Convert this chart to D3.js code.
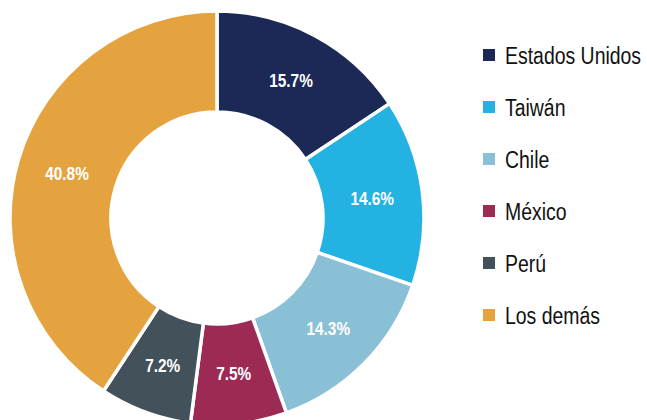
<!DOCTYPE html>
<html>
<head>
<meta charset="utf-8">
<script src="https://cdn.jsdelivr.net/npm/d3@7"></script>
<style>
  body { margin: 0; background: #fff; }
  svg { display: block; }
  text { font-family: "Liberation Sans", Arial, sans-serif; }
</style>
</head>
<body>
<div id="chart"></div>
<script>
// data
let countries = ["Estados Unidos", "Taiwán", "Chile", "México", "Perú", "Los demás"];
let shares = [15.7, 14.6, 14.3, 7.5, 7.2, 40.8];
let colors = ["#1c2957", "#24b2e2", "#8ac0d6", "#9d2a54", "#43515b", "#e5a33f"];

const width = 647
const height = 420
const cx = 217, cy = 218
const outerR = 207, innerR = 106
const narrow = 0.81   // squeeze text horizontally, no condensed font installed

let svg = d3.select("#chart").append("svg")
    .attr("width", width)
    .attr("height", height)

let color = d3.scaleOrdinal().domain(countries).range(colors)

let pie = d3.pie().sort(null).value(d => d.value)
let arcs = pie(countries.map((c, i) => ({ name: c, value: shares[i] })))

let arc = d3.arc().innerRadius(innerR).outerRadius(outerR)

let g = svg.append("g").attr("transform", `translate(${cx},${cy})`)

g.selectAll("path")
    .data(arcs)
    .enter()
    .append("path")
    .attr("d", arc)
    .attr("fill", d => color(d.data.name))
    .attr("stroke", "#fff")
    .attr("stroke-width", 3.5)
    .attr("stroke-linejoin", "miter")

// percent labels
g.selectAll("text.pct")
    .data(arcs)
    .enter()
    .append("text")
    .attr("class", "pct")
    .attr("transform", d => `translate(${arc.centroid(d)}) scale(${narrow},1)`)
    .attr("text-anchor", "middle")
    .attr("dy", "0.36em")
    .attr("fill", "#fff")
    .attr("font-weight", "bold")
    .attr("font-size", 19)
    .text(d => d.data.value.toFixed(1) + "%")

// legend
let legendY = d3.scalePoint().domain(countries).range([55, 315])

let legend = svg.append("g")
    .selectAll("g")
    .data(countries)
    .enter()
    .append("g")
    .attr("transform", d => `translate(483,${legendY(d)})`)

legend.append("rect")
    .attr("x", 0)
    .attr("y", -6)
    .attr("width", 12)
    .attr("height", 12)
    .attr("fill", d => color(d))

legend.append("text")
    .attr("transform", `translate(22,0) scale(${narrow},1)`)
    .attr("dy", "0.36em")
    .attr("font-size", 24)
    .attr("fill", "#111")
    .text(d => d)
</script>
</body>
</html>
